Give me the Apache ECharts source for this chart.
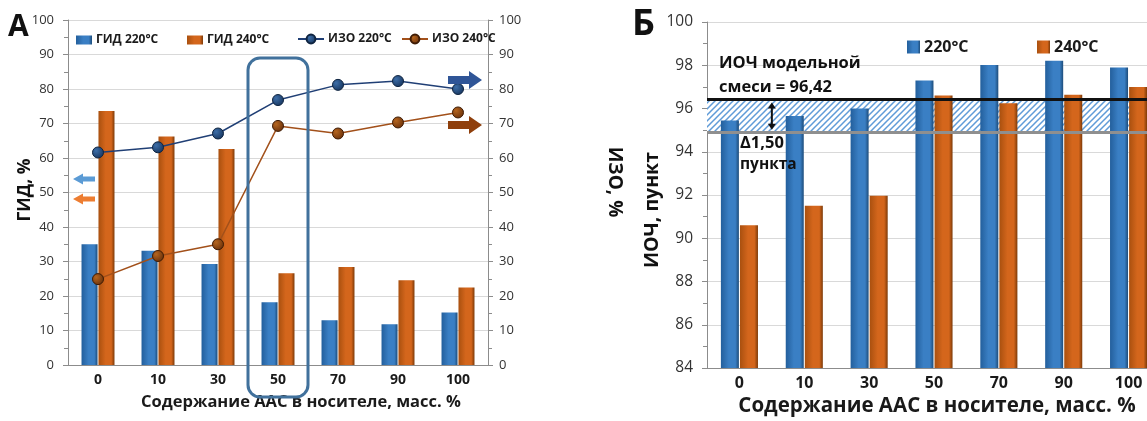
<!DOCTYPE html>
<html><head><meta charset="utf-8">
<script src="https://cdn.jsdelivr.net/npm/echarts@6/dist/echarts.min.js"></script>
<style>html,body{margin:0;padding:0;background:#fff}#c{width:1147px;height:421px}</style>
</head><body><div id="c"></div>
<script>
// ---- data ----
const categories = ['0', '10', '30', '50', '70', '90', '100'];
const gid220 = [35.0, 33.1, 29.3, 18.2, 13.0, 11.8, 15.2];
const gid240 = [73.6, 66.2, 62.6, 26.6, 28.4, 24.6, 22.5];
const izo220 = [61.6, 63.1, 67.1, 76.8, 81.2, 82.3, 80.0];
const izo240 = [24.9, 31.6, 35.0, 69.3, 67.1, 70.3, 73.2];
const ron220 = [95.45, 95.65, 96.0, 97.29, 98.01, 98.21, 97.9];
const ron240 = [90.6, 91.5, 91.97, 96.6, 96.24, 96.64, 97.0];
const ronModel = 96.42;
const ronDelta = 1.50;
const leftTicks = [0, 100, 10];
const rightTicks = [84, 100, 2];

const FF = '"Open Sans", "Noto Sans", sans-serif';
const chart = echarts.init(document.getElementById('c'));

function grad(c1, c2, c3) {
  return new echarts.graphic.LinearGradient(0, 0, 1, 0, [
    {offset: 0, color: c1}, {offset: 0.45, color: c2}, {offset: 0.8, color: c2}, {offset: 1, color: c3}]);
}
const blueBar = grad('#235f9c', '#3a7fc4', '#1d4c7a');
const orangeBar = grad('#a9500f', '#d4661c', '#7d3a08');

// hatch pattern
const pc = document.createElement('canvas');
pc.width = 6; pc.height = 6;
const px = pc.getContext('2d');
px.fillStyle = '#ffffff'; px.fillRect(0, 0, 6, 6);
px.strokeStyle = '#5f9bd8'; px.lineWidth = 1.5;
px.beginPath();
px.moveTo(-1, 7); px.lineTo(7, -1);
px.moveTo(-4, 4); px.lineTo(4, -4);
px.moveTo(2, 10); px.lineTo(10, 2);
px.stroke();

const axisLine = {show: true, lineStyle: {color: '#8c8c8c', width: 1}};
const split = {show: true, lineStyle: {color: '#d9d9d9', width: 1}};

function legendItem(name, left, top, w, h, fs, icon) {
  return {data: [icon ? {name: name, icon: icon} : name], left: left, top: top,
    itemWidth: w, itemHeight: h, itemGap: 4, selectedMode: false,
    textStyle: {fontFamily: FF, fontWeight: 'bold', fontSize: fs, color: '#1a1a1a', padding: [0, 0, 0, -1]}};
}

const option = {
  animation: false,
  backgroundColor: '#fff',
  legend: [
    legendItem('ГИД 220°C', 71, 29, 16, 9, 12, 'rect'),
    legendItem('ГИД 240°C', 182, 29, 16, 9, 12, 'rect'),
    legendItem('ИЗО 220°C', 292, 28, 26, 11, 12),
    legendItem('ИЗО 240°C', 396, 28, 26, 11, 12),
    legendItem('220°C', 902, 34, 13, 13, 16, 'rect'),
    legendItem('240°C', 1032, 34, 13, 13, 16, 'rect')
  ],
  grid: [
    {left: 68, top: 20, width: 420, height: 345, outerBoundsMode: 'none', containLabel: false},
    {left: 707, top: 22, width: 454, height: 346, outerBoundsMode: 'none', containLabel: false}
  ],
  xAxis: [
    {type: 'category', gridIndex: 0, data: categories, axisLine: axisLine, axisTick: {show: false},
      axisLabel: {fontFamily: FF, fontWeight: 'bold', fontSize: 14, color: '#1a1a1a', margin: 8},
      name: 'Содержание ААС в носителе, масс. %', nameLocation: 'middle', nameGap: 29,
      nameTextStyle: {fontFamily: FF, fontWeight: 'bold', fontSize: 16.5, color: '#1a1a1a', padding: [0, 0, 0, 46]}},
    {type: 'category', gridIndex: 1, data: categories, axisLine: axisLine, axisTick: {show: false},
      axisLabel: {fontFamily: FF, fontWeight: 'bold', fontSize: 16, color: '#1a1a1a', margin: 7},
      name: 'Содержание ААС в носителе, масс. %', nameLocation: 'middle', nameGap: 27,
      nameTextStyle: {fontFamily: FF, fontWeight: 'bold', fontSize: 20.5, color: '#1a1a1a', padding: [0, 0, 0, 6]}}
  ],
  yAxis: [
    {type: 'value', gridIndex: 0, min: leftTicks[0], max: leftTicks[1], interval: leftTicks[2],
      axisLine: axisLine, axisTick: {show: true, length: 5, lineStyle: {color: '#8c8c8c'}},
      minorTick: {show: true, splitNumber: 2, length: 4, lineStyle: {color: '#8c8c8c'}},
      splitLine: split, axisLabel: {fontFamily: FF, fontSize: 13, color: '#333', margin: 14}},
    {type: 'value', gridIndex: 0, position: 'right', min: leftTicks[0], max: leftTicks[1], interval: leftTicks[2],
      axisLine: axisLine, axisTick: {show: true, length: 5, lineStyle: {color: '#8c8c8c'}},
      minorTick: {show: true, splitNumber: 2, length: 4, lineStyle: {color: '#8c8c8c'}},
      splitLine: {show: false}, axisLabel: {fontFamily: FF, fontSize: 13, color: '#333', margin: 11}},
    {type: 'value', gridIndex: 1, min: rightTicks[0], max: rightTicks[1], interval: rightTicks[2],
      axisLine: axisLine, axisTick: {show: true, length: 5, lineStyle: {color: '#8c8c8c'}},
      minorTick: {show: true, splitNumber: 2, length: 4, lineStyle: {color: '#8c8c8c'}},
      splitLine: split, axisLabel: {fontFamily: FF, fontSize: 15.5, color: '#333', margin: 14}}
  ],
  series: [
    {name: 'ГИД 220°C', type: 'bar', xAxisIndex: 0, yAxisIndex: 0, data: gid220, barWidth: 16, barGap: '6%',
      itemStyle: {color: blueBar}, z: 2},
    {name: 'ГИД 240°C', type: 'bar', xAxisIndex: 0, yAxisIndex: 0, data: gid240, barWidth: 16, barGap: '6%',
      itemStyle: {color: orangeBar}, z: 2},
    {name: 'ИЗО 220°C', type: 'line', xAxisIndex: 0, yAxisIndex: 1, data: izo220, symbol: 'circle', symbolSize: 11,
      lineStyle: {color: '#203f75', width: 1.5},
      itemStyle: {color: new echarts.graphic.RadialGradient(0.35, 0.35, 0.7, [{offset: 0, color: '#3d6ea8'}, {offset: 1, color: '#17355e'}]),
        borderColor: '#0f2440', borderWidth: 1}, z: 4},
    {name: 'ИЗО 240°C', type: 'line', xAxisIndex: 0, yAxisIndex: 1, data: izo240, symbol: 'circle', symbolSize: 11,
      lineStyle: {color: '#a2501a', width: 1.5},
      itemStyle: {color: new echarts.graphic.RadialGradient(0.35, 0.35, 0.7, [{offset: 0, color: '#b5651f'}, {offset: 1, color: '#6b310a'}]),
        borderColor: '#3f1c05', borderWidth: 1}, z: 4},
    {name: '220°C', type: 'bar', xAxisIndex: 1, yAxisIndex: 2, data: ron220, barWidth: 18, barGap: '6%',
      itemStyle: {color: blueBar}, z: 3,
      markArea: {silent: true, z: 1, itemStyle: {color: {image: pc, repeat: 'repeat'}, opacity: 1},
        data: [[{yAxis: ronModel - ronDelta}, {yAxis: ronModel}]]},
      markLine: {silent: true, symbol: 'none', label: {show: false}, z: 6,
        data: [
          {yAxis: ronModel, lineStyle: {color: '#111', width: 3, type: 'solid'}},
          {yAxis: ronModel - ronDelta, lineStyle: {color: '#8f8f8f', width: 3, type: 'solid'}}
        ]}},
    {name: '240°C', type: 'bar', xAxisIndex: 1, yAxisIndex: 2, data: ron240, barWidth: 18, barGap: '6%',
      itemStyle: {color: orangeBar}, z: 3}
  ]
};
chart.setOption(option);

// ---- annotations, positioned through the axes ----
const X0 = (i) => chart.convertToPixel({xAxisIndex: 0}, i);
const Y0 = (v) => chart.convertToPixel({yAxisIndex: 0}, v);
const X1 = (i) => chart.convertToPixel({xAxisIndex: 1}, i);
const Y2 = (v) => chart.convertToPixel({yAxisIndex: 2}, v);

function arrow(x0, x1, y, shaft, head, headLen, color) {
  const d = x1 > x0 ? 1 : -1;
  const hb = x1 - d * headLen;
  return {type: 'polygon', z: 10, shape: {points: [
    [x0, y - shaft / 2], [hb, y - shaft / 2], [hb, y - head / 2], [x1, y], [hb, y + head / 2], [hb, y + shaft / 2], [x0, y + shaft / 2]]},
    style: {fill: color}};
}

const leftAxisX = 68, rightAxisX = 488;
const cx50 = X0(3);
const xb = (X1(0) + X1(1)) / 2;
const yTop = Y2(ronModel) + 3, yBot = Y2(ronModel - ronDelta) - 2;
const textStyle = (fs) => ({fontFamily: FF, fontWeight: 'bold', fontSize: fs, fill: '#111'});
const vTitle = (text, x, y, rot, fs) => ({type: 'text', z: 10, x: x, y: y, rotation: rot,
  style: Object.assign({text: text, align: 'center', verticalAlign: 'middle'}, textStyle(fs))});

chart.setOption({graphic: [
  {type: 'rect', z: 10, shape: {x: cx50 - 30, y: Y0(89), width: 60, height: Y0(0) - Y0(89) + 32, r: 12},
    style: {fill: 'none', stroke: '#41719c', lineWidth: 3}},
  arrow(leftAxisX + 27, leftAxisX + 5, Y0(53.9), 5, 11, 10, '#5b9bd5'),
  arrow(leftAxisX + 27, leftAxisX + 5, Y0(48.1), 5, 11, 10, '#ed7d31'),
  arrow(rightAxisX - 40, rightAxisX - 6, Y0(82.6), 8, 18, 13, '#2f5597'),
  arrow(rightAxisX - 40, rightAxisX - 6, Y0(69.6), 8, 18, 13, '#8f3f0c'),
  vTitle('ГИД, %', 25, 190, Math.PI / 2, 17.5),
  vTitle('ИЗО, %', 614, 182, -Math.PI / 2, 19),
  vTitle('ИОЧ, пункт', 652, 210, Math.PI / 2, 19.5),
  {type: 'text', left: 8, top: 12, style: {text: 'А', fontFamily: FF, fontWeight: 'bold', fontSize: 30, fill: '#111'}},
  {type: 'text', left: 632, top: 7, style: {text: 'Б', fontFamily: FF, fontWeight: 'bold', fontSize: 36, fill: '#111'}},
  {type: 'line', z: 10, shape: {x1: xb, y1: yTop + 4, x2: xb, y2: yBot - 4}, style: {stroke: '#111', lineWidth: 2}},
  {type: 'polygon', z: 10, shape: {points: [[xb - 4, yTop + 6], [xb + 4, yTop + 6], [xb, yTop]]}, style: {fill: '#111'}},
  {type: 'polygon', z: 10, shape: {points: [[xb - 4, yBot - 6], [xb + 4, yBot - 6], [xb, yBot]]}, style: {fill: '#111'}},
  {type: 'text', z: 10, x: 719, y: Y2(98.1), style: Object.assign({text: 'ИОЧ модельной', verticalAlign: 'middle'}, textStyle(16.5))},
  {type: 'text', z: 10, x: 719, y: Y2(97.0), style: Object.assign({text: 'смеси = ' + ronModel.toFixed(2).replace('.', ','), verticalAlign: 'middle'}, textStyle(16.5))},
  {type: 'text', z: 10, x: 740, y: Y2(94.4), style: Object.assign({text: 'Δ' + ronDelta.toFixed(2).replace('.', ','), verticalAlign: 'middle'}, textStyle(16.5))},
  {type: 'text', z: 10, x: 740, y: Y2(93.4), style: Object.assign({text: 'пункта', verticalAlign: 'middle'}, textStyle(15.5))}
]});
</script></body></html>
